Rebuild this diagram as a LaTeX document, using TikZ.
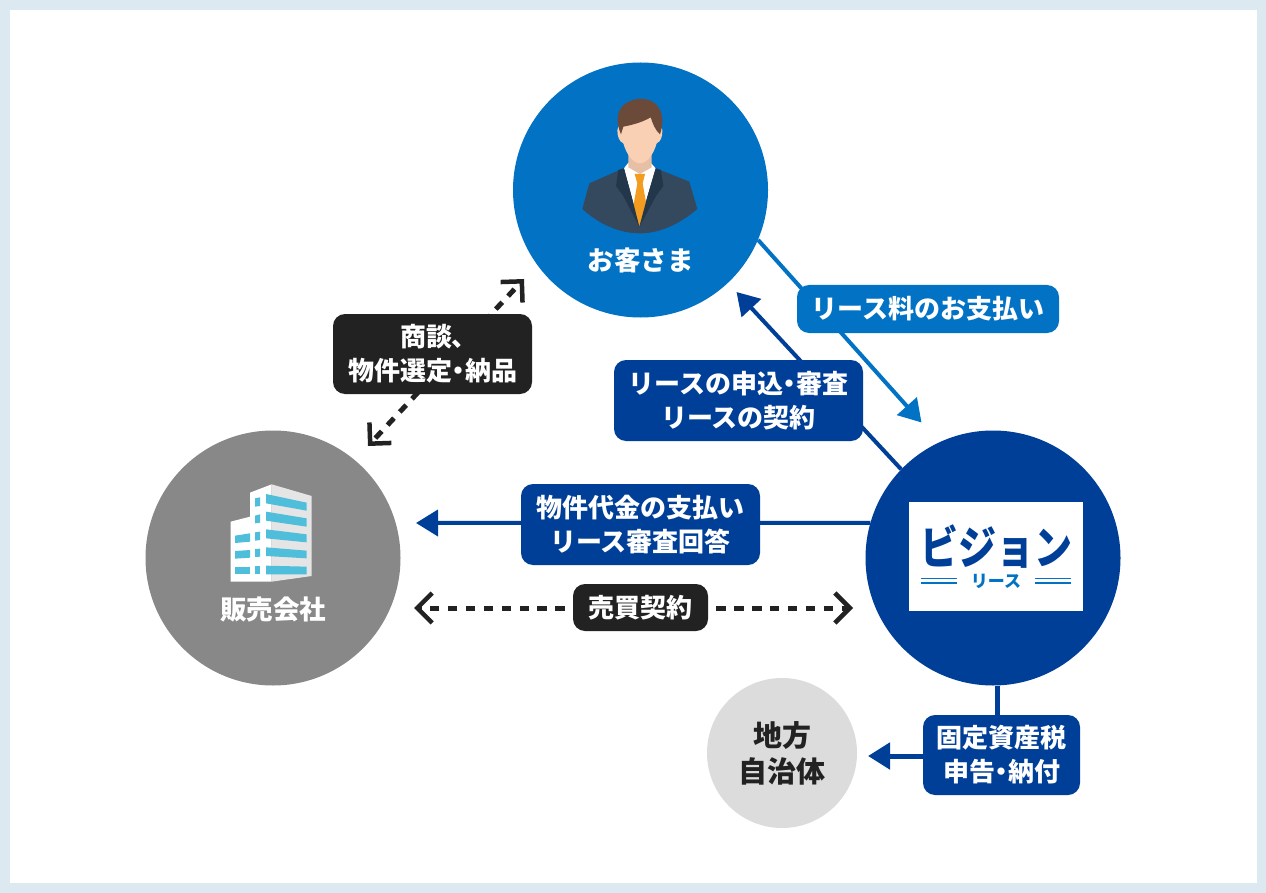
\documentclass[tikz,border=0pt]{standalone}
\usepackage{fontspec}
\usepackage{tikz}
\usetikzlibrary{positioning,arrows.meta}
\newfontfamily\cjk{Noto Sans CJK JP}
\newcommand{\narrowmark}[1]{{\addfontfeature{RawFeature=+palt}#1}}
\definecolor{frame}{HTML}{DCE9F0}
\definecolor{skyblue}{HTML}{0272C4}
\definecolor{navy}{HTML}{003F98}
\definecolor{midgray}{HTML}{888888}
\definecolor{palegray}{HTML}{DCDCDC}
\definecolor{ink}{HTML}{222222}
\definecolor{window}{HTML}{4FBEDB}
\definecolor{hair}{HTML}{6B4A3A}
\definecolor{skin}{HTML}{F9D0B4}
\definecolor{neck}{HTML}{E6BFA5}
\definecolor{suit}{HTML}{34495E}
\definecolor{lapel}{HTML}{22384A}
\definecolor{tie}{HTML}{F39C1F}
\tikzset{
  party/.style={circle,inner sep=0pt,minimum size=#1},
  tag/.style={rounded corners=12pt,text=white,align=center,inner sep=0pt,
    font=\cjk\bfseries\fontsize{26}{34}\selectfont},
  title/.style={text=white,inner sep=0pt,font=\cjk\bfseries\fontsize{26.5}{30}\selectfont},
  solid tip/.style={-{Triangle[length=22pt,width=26pt]},line width=4pt},
  talk/.style={-{Straight Barb[length=15pt,width=30pt,line width=4.5pt]},
    line width=5pt,ink,dash pattern=on 9.4pt off 8.5pt}
}
\begin{document}
\begin{tikzpicture}[x=1pt,y=-1pt,node distance=100pt,on grid]
    \useasboundingbox (0,0) rectangle (1266,893);
    \fill[frame] (0,0) rectangle (1266,893);
    \fill[white] (10,10) rectangle (1257,883);
    % the four parties
    \node[party=255pt,fill=navy] (vision) at (993,558) {};
    \node[party=255pt,fill=skyblue] (customer) [above left=368pt and 352.5pt of vision] {};
    \node[party=255pt,fill=midgray] (sales) [left=720pt of vision] {};
    \node[party=150pt,fill=palegray,text=ink,align=center,font=\cjk\bfseries\fontsize{29}{36}\selectfont] (localgov) at (782,753) {地方\\自治体};
    \node[title] (customer_name) [below=70pt of customer] {お客さま};
    \node[title] (sales_name) [below=52pt of sales] {販売会社};
    % free ends of the connectors
    \coordinate (fee_end) at (921.5,422.5);
    \coordinate (apply_end) at (736.5,292);
    \coordinate (pay_end) at (416,523);
    \coordinate (tax_end) at (868,756);
    \coordinate (deal_a) at (414,608);
    \coordinate (deal_b) at (853,608);
    \coordinate (deal_c) at (582.6,608);
    \coordinate (deal_d) at (698.4,608);
    \coordinate (talk_a) at (368,446);
    \coordinate (talk_b) at (524,279);
    \coordinate (talk_c) at (418.4,392);
    \coordinate (talk_d) at (483.6,322.2);
    % connectors first, the tags lie over them
    \draw[solid tip,skyblue] (customer.-23.6) -- (fee_end);
    \draw[solid tip,navy] (vision.136.6) -- (apply_end);
    \draw[solid tip,navy] (vision.164) -- (pay_end);
    \draw[talk] (deal_c) -- (deal_a);
    \draw[talk] (deal_d) -- (deal_b);
    \draw[talk] (talk_c) -- (talk_a);
    \draw[talk] (talk_d) -- (talk_b);
    % tags
    \node[tag,fill=skyblue,minimum width=262pt,minimum height=48pt] (fee) at (928,309) {リース料のお支払い};
    \node[tag,fill=navy,minimum width=249pt,minimum height=81pt] (apply) at (738.5,400.5) {リースの申込\narrowmark{・}審査\\リースの契約};
    \node[tag,fill=navy,minimum width=239pt,minimum height=81pt] (pay) at (640.5,524.5) {物件代金の支払い\\リース審査回答};
    \node[tag,fill=ink,minimum width=135pt,minimum height=47pt] (deal) at (640.5,607.5) {売買契約};
    \node[tag,fill=ink,minimum width=199pt,minimum height=80pt] (talk) at (432.5,354) {商談\narrowmark{、}\\物件選定\narrowmark{・}納品};
    \node[tag,fill=navy,minimum width=157pt,minimum height=80pt] (tax) at (1001.5,755) {固定資産税\\申告\narrowmark{・}納付};
    \draw[navy,line width=5pt] (vision.-88) -- (vision.-88 |- tax.north);
    \draw[solid tip,navy,line width=5pt] (tax.west |- tax_end) -- (tax_end);
    % vision logo
    \node[fill=white,minimum width=174pt,minimum height=109pt,inner sep=0pt] (logo) at (996,556.5) {};
    \node[text=navy,inner sep=0pt,font=\cjk\bfseries\fontsize{38}{38}\selectfont] (logo_name) at (996,547) {\scalebox{1}[1.2]{ビジョン}};
    \node[text=skyblue,inner sep=0pt,font=\cjk\bfseries\fontsize{17}{17}\selectfont] (logo_sub) at (996,581) {リース};
    \foreach \y in {578.5,583}{
      \draw[skyblue,line width=1.6pt] (921,\y) -- (957,\y);
      \draw[skyblue,line width=1.6pt] (1035,\y) -- (1071,\y);
    }
    % man
    \begin{scope}[shift={(560,80)},scale=1/3]
      \fill[suit] (67,387) -- (88,310) -- (190,265) -- (288,265) -- (388,305) -- (412,387)
        .. controls (350,440) and (290,460) .. (240,460) .. controls (180,460) and (120,435) .. (67,387) -- cycle;
      \fill[white] (192,265) -- (205,248) -- (272,248) -- (287,265) -- (262,350) -- (238,438) -- (215,350) -- cycle;
      \fill[neck] (205,210) -- (275,210) -- (275,262) -- (240,282) -- (205,262) -- cycle;
      \fill[tie] (224,282) -- (255,282) -- (248,310) -- (262,390) -- (238,438) -- (218,390) -- (232,310) -- cycle;
      \fill[lapel] (175,270) -- (192,265) -- (215,350) -- (238,440) -- (188,345) -- (168,318) -- cycle;
      \fill[lapel] (303,270) -- (287,265) -- (262,350) -- (238,440) -- (290,345) -- (310,318) -- cycle;
      \fill[skin] (172,150) .. controls (172,170) and (178,185) .. (190,190)
        .. controls (200,225) and (220,250) .. (240,250)
        .. controls (260,250) and (280,225) .. (290,190)
        .. controls (302,185) and (308,170) .. (307,150)
        -- (290,100) -- (190,100) -- cycle;
      \fill[hair] (183,163) .. controls (168,130) and (168,90) .. (195,72)
        .. controls (225,50) and (265,52) .. (287,72)
        .. controls (312,95) and (310,135) .. (300,163)
        .. controls (285,150) and (278,130) .. (272,112)
        .. controls (245,128) and (215,135) .. (190,140) -- cycle;
    \end{scope}
    % building
    \begin{scope}[shift={(210,470)},scale=1/3]
      \fill[white] (62,155) -- (120,140) -- (120,68) -- (185,43) -- (185,335) -- (62,335) -- cycle;
      \fill[gray!20] (185,43) -- (305,78) -- (305,318) -- (185,335) -- cycle;
      \foreach \a/\b/\c/\d in {72/98/122/100,125/145/170/152,178/193/217/205,232/242/265/258,287/290/313/313}
        \fill[window] (168,\a) -- (290,\b) -- (290,\c) -- (168,\d) -- cycle;
      \foreach \a/\b/\c/\d in {85/82/108/110,137/133/158/160,187/185/210/212,237/236/260/261,288/288/312/312}
        \fill[window] (135,\a) -- (150,\b) -- (150,\c) -- (135,\d) -- cycle;
      \foreach \a/\b/\c/\d in {197/190/215/219,243/240/263/266,290/290/312/312}
        \fill[window] (75,\a) -- (120,\b) -- (120,\c) -- (75,\d) -- cycle;
    \end{scope}
\end{tikzpicture}
\end{document}
